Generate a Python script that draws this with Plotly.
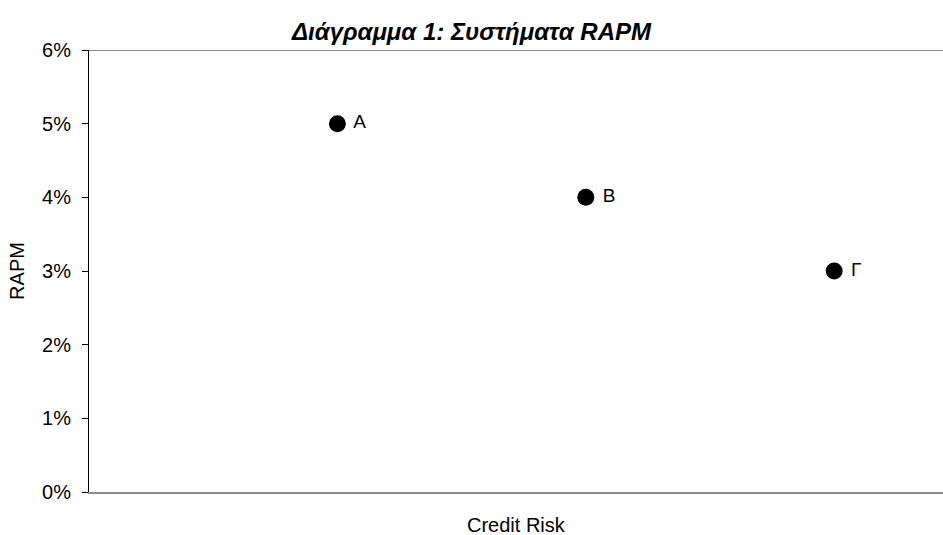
import plotly.graph_objects as go

labels = ["A", "B", "Γ"]
credit_risk = [1, 2, 3]
rapm = [0.05, 0.04, 0.03]
y_ticks = [0, 0.01, 0.02, 0.03, 0.04, 0.05, 0.06]

FONT = "Liberation Sans, Arial"

fig = go.Figure()
fig.add_trace(go.Scatter(
    x=credit_risk, y=rapm, mode="markers+text",
    text=[" " + t for t in labels], textposition="middle right",
    marker=dict(color="black", size=17),
    textfont=dict(family=FONT, size=19, color="black"),
    cliponaxis=False, showlegend=False,
))
fig.add_shape(type="line", xref="paper", yref="y", x0=0, x1=1, y0=0.06, y1=0.06,
              line=dict(color="#8c8c8c", width=2))
fig.add_annotation(text="Credit Risk", xref="paper", yref="paper", x=0.5, y=0,
                   xanchor="center", yanchor="top", yshift=-20, showarrow=False,
                   font=dict(family=FONT, size=20, color="black"))
fig.update_layout(
    width=943, height=535,
    margin=dict(l=89, r=0, t=50, b=43),
    paper_bgcolor="white", plot_bgcolor="white",
    font=dict(family=FONT, size=20, color="black"),
    title=dict(text="<b><i>Διάγραμμα 1: Συστήματα RAPM</i></b>", x=0.5, xanchor="center",
               y=1 - 32 / 535, yref="container", yanchor="middle",
               font=dict(size=24)),
    xaxis=dict(range=[0, 3.438], showticklabels=False, ticks="", showgrid=False,
               zeroline=False, showline=True, linecolor="#8c8c8c", linewidth=2,
               automargin=False),
    yaxis=dict(range=[0, 0.06], tickvals=y_ticks, tickformat=".0%", showgrid=False,
               zeroline=False, showline=True, linecolor="black", linewidth=1,
               ticks="outside", ticklen=6, tickcolor="black", ticklabelstandoff=7,
               automargin=False,
               title=dict(text="RAPM", standoff=12, font=dict(size=20))),
)
fig.write_html("out.html", config={"displayModeBar": False},
               post_script="document.body.style.margin='0';document.body.style.padding='0';document.body.style.overflow='hidden';")
